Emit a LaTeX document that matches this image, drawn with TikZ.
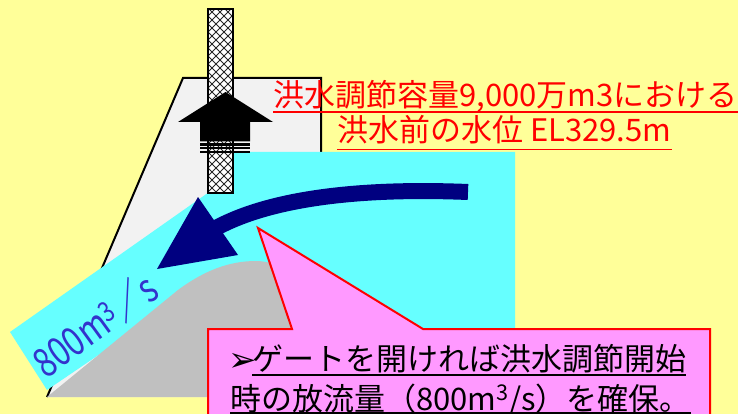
\documentclass[tikz,border=0pt]{standalone}
\usepackage{fontspec}
\usepackage{graphicx}
\newfontfamily\jpfont{Noto Sans CJK JP}
\newfontfamily\dingfont{DejaVu Sans}

\definecolor{bgyellow}{RGB}{255,255,153}
\definecolor{damgrey}{RGB}{242,242,242}
\definecolor{watercyan}{RGB}{102,255,255}
\definecolor{spillgrey}{RGB}{192,192,192}
\definecolor{flownavy}{RGB}{0,0,128}
\definecolor{labelred}{RGB}{255,0,0}
\definecolor{calloutpink}{RGB}{255,153,255}
\definecolor{rateblue}{RGB}{51,51,204}

\tikzset{
  redlabel/.style={text=labelred, inner sep=0pt, anchor=base west,
    font=\jpfont\fontsize{31}{31}\selectfont},
  calltext/.style={text=black, inner sep=0pt, anchor=base west,
    font=\jpfont\fontsize{31}{31}\selectfont},
  ratetext/.style={text=rateblue, inner sep=0pt,
    font=\jpfont\fontsize{40}{40}\selectfont},
  redrule/.style={draw=labelred, line width=1.5pt},
  blackrule/.style={draw=black, line width=1.5pt},
  hatchline/.style={draw=black!85, line width=0.9pt},
}

\begin{document}
\begin{tikzpicture}[x=1pt,y=-1pt]
\useasboundingbox (0,0) rectangle (738,414);
\clip (0,0) rectangle (738,414);
\fill[bgyellow] (0,0) rectangle (738,414);

% dam body
\fill[damgrey] (47,397) -- (183,78) -- (321,78) -- (321,397) -- cycle;
\draw[line width=2pt] (47,397) -- (183,78) -- (321,78) -- (321,160);

% reservoir water and discharge jet
\fill[watercyan] (222,152) -- (515,152) -- (515,340) -- (200,340) -- (100,354)
  -- (47,390) -- (10,332) -- (212,190) -- cycle;

% spillway crest
\fill[spillgrey] (47,397) -- (178,290) .. controls (205,270) and (230,261) .. (256,261)
  .. controls (290,261) and (330,300) .. (360,340) -- (380,397) -- cycle;

% gate with lattice infill
\begin{scope}
  \clip (208,9) rectangle (233,193);
  \fill[white] (208,9) rectangle (233,193);
  \foreach \c in {0,8,...,240} \draw[hatchline] (\c,0) -- ++(200,200);
  \foreach \c in {200,208,...,440} \draw[hatchline] (\c,0) -- ++(-200,200);
\end{scope}
\draw[line width=1.5pt] (208,9) rectangle (233,193);

% striped lifting arrow
\fill[black] (225.5,92) -- (273,122) -- (250,122) -- (250,141.5) -- (200,141.5)
  -- (200,122) -- (178,122) -- cycle;
\fill[black] (200,143.2) rectangle (250,145.6);
\fill[black] (200,147.2) rectangle (250,149.4);
\fill[black] (200,151) rectangle (250,153.2);

% discharge flow arrow
\draw[flownavy, line width=16pt] (468,192) .. controls (370,188) and (275,196) .. (216,228);
\fill[flownavy] (157,269) -- (198,197) -- (238,255) -- cycle;

% water level labels
\node[redlabel] (lvA) at (273,106.5) {洪水調節容量9,000万m3における};
\node[redlabel] (lvB) at (337,142) {洪水前の水位 EL329.5m};
\draw[redrule] ([yshift=-5.5pt]lvA.base west) -- ([yshift=-5.5pt]lvA.base east);
\draw[redrule] ([yshift=-7.5pt]lvB.base west) -- ([yshift=-7.5pt]lvB.base east);

% discharge rate along the jet
\node[ratetext, rotate=36] (rate) at (95,325)
  {\scalebox{0.8}[1]{800m\textsuperscript{3}／s}};

% callout
\filldraw[fill=calloutpink, draw=labelred, line width=2pt]
  (208,329) -- (292,329) -- (258,228) -- (423,329) -- (710,329) -- (710,440)
  -- (208,440) -- cycle;
\node[text=black, inner sep=0pt, anchor=base west,
  font=\dingfont\fontsize{34}{34}\selectfont] (bullet) at (228,371) {➢};
\node[calltext] (noteA) at (252,370) {ゲートを開ければ洪水調節開始};
\node[calltext] (noteB) at (230,410) {時の放流量（800m\textsuperscript{3}/s）を確保。};
\draw[blackrule] ([yshift=-5pt]noteA.base west) -- ([yshift=-5pt]noteA.base east);
\draw[blackrule] ([yshift=-3pt]noteB.base west) -- ([yshift=-3pt]noteB.base east);
\end{tikzpicture}
\end{document}
